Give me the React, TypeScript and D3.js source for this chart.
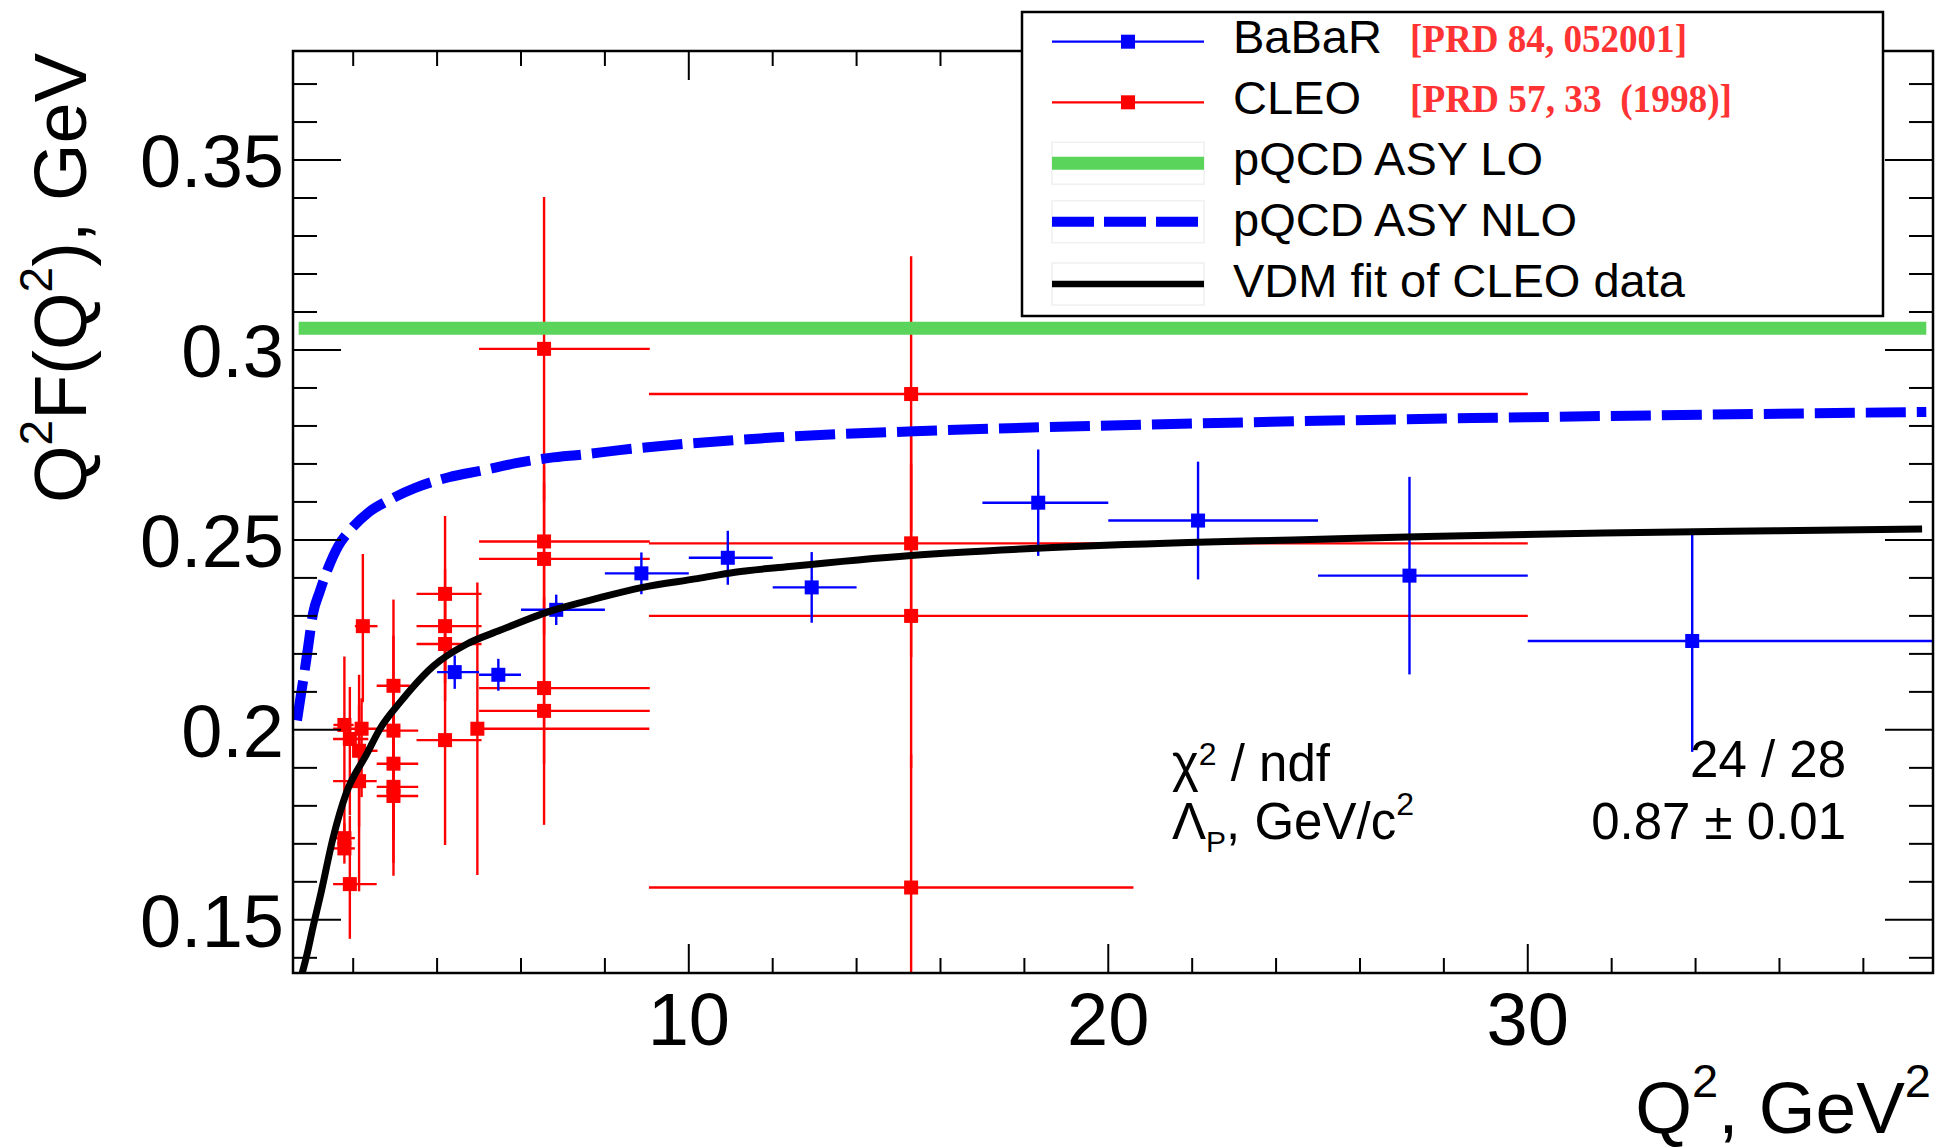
import React from 'react';
import * as d3 from 'd3';

const W = 1939;
const H = 1148;
const FRAME = { left: 293, right: 1933, top: 51, bottom: 973 };
const X_DOMAIN: [number, number] = [0.565, 39.66];
const Y_DOMAIN: [number, number] = [0.136, 0.3787];

// CLEO data: Q2, Q2F, x-error low/high, y-error low/high
const cleoQ2 = [1.79, 1.79, 1.79, 1.92, 1.92, 2.23, 2.2, 2.14, 2.14, 2.96, 2.96, 2.96, 2.96, 2.96, 4.19, 4.19, 4.19, 4.19, 4.96, 6.55, 6.55, 6.55, 6.55, 6.55, 15.3, 15.3, 15.3, 15.3];
const cleoF = [0.2013, 0.1715, 0.1688, 0.1976, 0.1594, 0.2273, 0.2003, 0.1945, 0.1865, 0.2116, 0.1998, 0.1911, 0.185, 0.1826, 0.2358, 0.2273, 0.2226, 0.1973, 0.2003, 0.3003, 0.2496, 0.245, 0.211, 0.205, 0.2884, 0.2491, 0.23, 0.1585];
const cleoExLo = [0.26, 0.26, 0.26, 0.4, 0.4, 0.19, 0.68, 0.1, 0.62, 0.4, 0.4, 0.4, 0.4, 0.4, 0.68, 0.68, 0.68, 0.68, 0.0, 1.55, 1.55, 1.55, 1.55, 1.55, 6.25, 6.25, 6.25, 6.25];
const cleoExHi = [0.22, 0.25, 0.25, 0.44, 0.64, 0.35, 0.38, 0.44, 0.42, 0.39, 0.59, 0.59, 0.59, 0.59, 0.87, 0.87, 0.87, 0.87, 4.1, 2.52, 2.52, 2.52, 2.52, 2.52, 14.7, 14.7, 14.7, 5.3];
const cleoEyLo = [0.031, 0.004, 0.004, 0.02, 0.0144, 0.02, 0.018, 0.02, 0.029, 0.023, 0.025, 0.02, 0.02, 0.021, 0.0205, 0.015, 0.015, 0.0276, 0.0385, 0.04, 0.02, 0.02, 0.02, 0.03, 0.0363, 0.03, 0.04, 0.035];
const cleoEyHi = [0.018, 0.004, 0.004, 0.0137, 0.018, 0.019, 0.008, 0.02, 0.02, 0.0227, 0.025, 0.02, 0.02, 0.021, 0.0205, 0.015, 0.015, 0.0276, 0.0385, 0.04, 0.02, 0.02, 0.02, 0.03, 0.0363, 0.03, 0.04, 0.035];

// BaBaR data
const babarQ2 = [4.42, 5.46, 6.84, 8.87, 10.93, 12.93, 18.33, 22.14, 27.18, 33.92];
const babarF = [0.2152, 0.2145, 0.2316, 0.2412, 0.2453, 0.2375, 0.2598, 0.2551, 0.2406, 0.2234];
const babarExLo = [0.42, 0.46, 0.84, 0.87, 0.93, 0.93, 1.33, 2.14, 2.18, 3.92];
const babarExHi = [0.58, 0.54, 1.16, 1.13, 1.07, 1.07, 1.67, 2.86, 2.82, 6.08];
const babarEy = [0.0044, 0.0042, 0.004, 0.0055, 0.0071, 0.0093, 0.014, 0.0155, 0.026, 0.0292];

// pQCD ASY LO (constant)
const loQ2 = [0.7, 39.5];
const loF = [0.3057, 0.3057];

// pQCD ASY NLO
const nloQ2 = [0.66, 0.75, 0.82, 0.92, 1.04, 1.2, 1.4, 1.64, 1.96, 2.36, 2.84, 3.48, 4.28, 5.08, 5.88, 6.68, 7.48, 8.4, 12.1, 15.9, 19.6, 23.9, 30, 39.5];
const nloF = [0.2025, 0.209, 0.2139, 0.2214, 0.2305, 0.2363, 0.2425, 0.2483, 0.253, 0.2572, 0.2604, 0.2637, 0.2665, 0.2683, 0.2702, 0.2716, 0.2725, 0.2737, 0.277, 0.2788, 0.28, 0.2811, 0.2823, 0.2837];

// VDM fit
const vdmQ2 = [0.76, 0.89, 1.05, 1.21, 1.53, 1.84, 2.32, 2.64, 3.12, 3.91, 4.71, 5.5, 6.68, 7.88, 8.9, 10.2, 11.1, 12.4, 15.3, 18.3, 21.9, 24.4, 27.6, 31.8, 35.9, 39.4];
const vdmF = [0.135, 0.1405, 0.1485, 0.156, 0.172, 0.1835, 0.1936, 0.2003, 0.2073, 0.2168, 0.2226, 0.2262, 0.2312, 0.2348, 0.2375, 0.2398, 0.2415, 0.243, 0.2459, 0.2478, 0.2493, 0.25, 0.2509, 0.2518, 0.2524, 0.2529];

const xMajorTicks = [10, 20, 30];
const xTickLabels = ['10', '20', '30'];
const yMajorTicks = [0.15, 0.2, 0.25, 0.3, 0.35];
const yTickLabels = ['0.15', '0.2', '0.25', '0.3', '0.35'];

const RED = '#ff0000';
const BLUE = '#0000ff';
const GREEN = '#5ad45a';
const FONT = '"Liberation Sans", Arial, Helvetica, sans-serif';
const SERIF = '"Liberation Serif", "Times New Roman", serif';

export default function App() {
  const x = d3.scaleLinear().domain(X_DOMAIN).range([FRAME.left, FRAME.right]);
  const y = d3.scaleLinear().domain(Y_DOMAIN).range([FRAME.bottom, FRAME.top]);

  const xMinor = d3.range(2, 40, 2).filter((v) => v > X_DOMAIN[0] && v < X_DOMAIN[1] && v % 10 !== 0);
  const yMinor = d3.range(14, 38).map((v) => v / 100).filter((v) => Math.abs(v * 20 - Math.round(v * 20)) > 1e-6);

  const line = d3
    .line<[number, number]>()
    .x((d) => x(d[0]))
    .y((d) => y(d[1]))
    .curve(d3.curveMonotoneX);

  const nloPath = line(nloQ2.map((q, i) => [q, nloF[i]] as [number, number])) || '';
  const vdmPath = line(vdmQ2.map((q, i) => [q, vdmF[i]] as [number, number])) || '';
  const loPath = d3.line<[number, number]>().x((d) => x(d[0])).y((d) => y(d[1]))(loQ2.map((q, i) => [q, loF[i]] as [number, number])) || '';

  const MS = 14;

  const cleo = cleoQ2.map((q, i) => ({ q, f: cleoF[i], exl: cleoExLo[i], exh: cleoExHi[i], eyl: cleoEyLo[i], eyh: cleoEyHi[i] }));
  const babar = babarQ2.map((q, i) => ({ q, f: babarF[i], exl: babarExLo[i], exh: babarExHi[i], eyl: babarEy[i], eyh: babarEy[i] }));

  const renderPoints = (pts: typeof cleo, color: string, key: string) => (
    <g key={key}>
      {pts.map((p, i) => (
        <g key={i} stroke={color} strokeWidth={2.4}>
          <line x1={x(p.q - p.exl)} x2={x(p.q + p.exh)} y1={y(p.f)} y2={y(p.f)} />
          <line x1={x(p.q)} x2={x(p.q)} y1={y(p.f - p.eyl)} y2={y(p.f + p.eyh)} />
        </g>
      ))}
      {pts.map((p, i) => (
        <rect key={'m' + i} x={x(p.q) - MS / 2} y={y(p.f) - MS / 2} width={MS} height={MS} fill={color} />
      ))}
    </g>
  );

  // legend geometry
  const LG = { x0: 1022, x1: 1883, y0: 12, y1: 316 };
  const symX0 = 1052;
  const symX1 = 1204;
  const symXc = (symX0 + symX1) / 2;
  const textX = 1233;
  const rowsLine = [41.7, 102.3, 163.3, 221.7, 284];
  const rowsText = [53, 114, 175, 236, 297];

  return (
    <svg
      width={W}
      height={H}
      viewBox={`0 0 ${W} ${H}`}
      style={{ position: 'absolute', left: 0, top: 0, background: '#fff' }}
      fontFamily={FONT}
    >
      <defs>
        <clipPath id="plotClip">
          <rect x={FRAME.left} y={FRAME.top} width={FRAME.right - FRAME.left} height={FRAME.bottom - FRAME.top} />
        </clipPath>
      </defs>
      <rect x={0} y={0} width={W} height={H} fill="#fff" />

      <g clipPath="url(#plotClip)">
        {renderPoints(cleo, RED, 'cleo')}
        {renderPoints(babar, BLUE, 'babar')}
        <path d={loPath} stroke={GREEN} strokeWidth={13} fill="none" />
        <path d={nloPath} stroke={BLUE} strokeWidth={10} fill="none" strokeDasharray="40 11" />
        <path d={vdmPath} stroke="#000" strokeWidth={7} fill="none" />
      </g>

      {/* frame */}
      <rect
        x={FRAME.left}
        y={FRAME.top}
        width={FRAME.right - FRAME.left}
        height={FRAME.bottom - FRAME.top}
        fill="none"
        stroke="#000"
        strokeWidth={2.5}
      />
      {/* x ticks bottom and top */}
      <g stroke="#000" strokeWidth={2}>
        {xMinor.map((v) => (
          <g key={'xm' + v}>
            <line x1={x(v)} x2={x(v)} y1={FRAME.bottom} y2={FRAME.bottom - 15} />
            <line x1={x(v)} x2={x(v)} y1={FRAME.top} y2={FRAME.top + 15} />
          </g>
        ))}
        {xMajorTicks.map((v) => (
          <g key={'xM' + v}>
            <line x1={x(v)} x2={x(v)} y1={FRAME.bottom} y2={FRAME.bottom - 29} />
            <line x1={x(v)} x2={x(v)} y1={FRAME.top} y2={FRAME.top + 29} />
          </g>
        ))}
        {yMinor.map((v) => (
          <g key={'ym' + v}>
            <line x1={FRAME.left} x2={FRAME.left + 24} y1={y(v)} y2={y(v)} />
            <line x1={FRAME.right} x2={FRAME.right - 24} y1={y(v)} y2={y(v)} />
          </g>
        ))}
        {yMajorTicks.map((v) => (
          <g key={'yM' + v}>
            <line x1={FRAME.left} x2={FRAME.left + 48} y1={y(v)} y2={y(v)} />
            <line x1={FRAME.right} x2={FRAME.right - 48} y1={y(v)} y2={y(v)} />
          </g>
        ))}
      </g>

      {/* tick labels */}
      <g fontSize={74} fill="#000">
        {yMajorTicks.map((v, i) => (
          <text key={'yl' + v} x={FRAME.left - 9} y={y(v) + 27} textAnchor="end">
            {yTickLabels[i]}
          </text>
        ))}
        {xMajorTicks.map((v, i) => (
          <text key={'xl' + v} x={x(v)} y={1045} textAnchor="middle">
            {xTickLabels[i]}
          </text>
        ))}
      </g>

      {/* axis titles */}
      <text x={1931} y={1133} fontSize={73} textAnchor="end">
        Q<tspan fontSize={47} dy={-36}>2</tspan>
        <tspan dy={36}>, GeV</tspan>
        <tspan fontSize={47} dy={-36}>2</tspan>
      </text>
      <text transform="rotate(-90)" x={-53} y={86} fontSize={74} textAnchor="end">
        Q<tspan fontSize={46} dy={-34}>2</tspan>
        <tspan dy={34}>F(Q</tspan>
        <tspan fontSize={46} dy={-34}>2</tspan>
        <tspan dy={34}>), GeV</tspan>
      </text>

      {/* fit statistics */}
      <g fontSize={51} fill="#000">
        <text x={1172} y={781}>
          χ<tspan fontSize={32} dy={-16}>2</tspan>
          <tspan dy={16}> / ndf</tspan>
        </text>
        <text x={1846} y={777} textAnchor="end">24 / 28</text>
        <text x={1172} y={839}>
          Λ<tspan fontSize={30} dy={13}>P</tspan>
          <tspan dy={-13}>, GeV/c</tspan>
          <tspan fontSize={32} dy={-24}>2</tspan>
        </text>
        <text x={1846} y={839} textAnchor="end">0.87 ± 0.01</text>
      </g>

      {/* legend */}
      <rect x={LG.x0} y={LG.y0} width={LG.x1 - LG.x0} height={LG.y1 - LG.y0} fill="#fff" stroke="#000" strokeWidth={2.5} />
      {[2, 3, 4].map((r) => (
        <rect key={'lb' + r} x={symX0} y={rowsLine[r] - 21} width={symX1 - symX0} height={42} fill="none" stroke="#f0f0f0" strokeWidth={1.5} />
      ))}
      <line x1={symX0} x2={symX1} y1={rowsLine[0]} y2={rowsLine[0]} stroke={BLUE} strokeWidth={2.2} />
      <rect x={symXc - MS / 2} y={rowsLine[0] - MS / 2} width={MS} height={MS} fill={BLUE} />
      <line x1={symX0} x2={symX1} y1={rowsLine[1]} y2={rowsLine[1]} stroke={RED} strokeWidth={2.2} />
      <rect x={symXc - MS / 2} y={rowsLine[1] - MS / 2} width={MS} height={MS} fill={RED} />
      <line x1={symX0} x2={symX1} y1={rowsLine[2]} y2={rowsLine[2]} stroke={GREEN} strokeWidth={13} />
      <line x1={symX0} x2={symX1} y1={rowsLine[3]} y2={rowsLine[3]} stroke={BLUE} strokeWidth={10} strokeDasharray="42 10" />
      <line x1={symX0} x2={symX1} y1={rowsLine[4]} y2={rowsLine[4]} stroke="#000" strokeWidth={6.5} />
      <g fontSize={47} fill="#000">
        <text x={textX} y={rowsText[0]}>BaBaR</text>
        <text x={textX} y={rowsText[1]}>CLEO</text>
        <text x={textX} y={rowsText[2]}>pQCD ASY LO</text>
        <text x={textX} y={rowsText[3]}>pQCD ASY NLO</text>
        <text x={textX} y={rowsText[4]}>VDM fit of CLEO data</text>
      </g>
      <g fontFamily={SERIF} fontWeight="bold" fontSize={40} fill="#f33">
        <text x={1410} y={52} textLength={277} lengthAdjust="spacingAndGlyphs">[PRD 84, 052001]</text>
        <text x={1410} y={112} textLength={322} lengthAdjust="spacingAndGlyphs" xmlSpace="preserve" style={{ whiteSpace: 'pre' }}>
          {'[PRD 57, 33  (1998)]'}
        </text>
      </g>
    </svg>
  );
}
